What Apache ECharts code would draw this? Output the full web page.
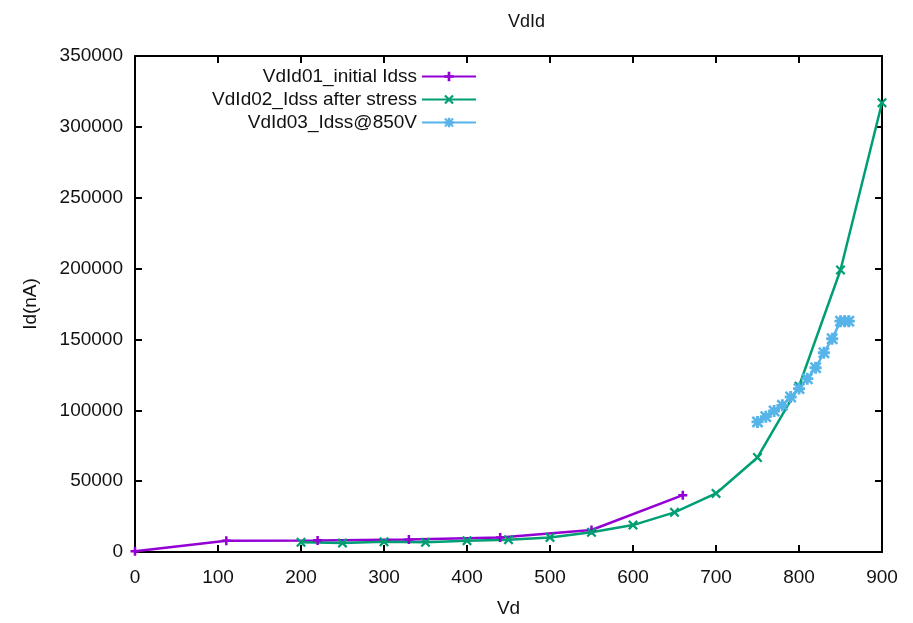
<!DOCTYPE html>
<html>
<head>
<meta charset="utf-8">
<script src="https://cdn.jsdelivr.net/npm/echarts@6/dist/echarts.min.js"></script>
<style>html,body{margin:0;padding:0;background:#fff}#c{width:913px;height:623px}</style>
</head>
<body>
<div id="c"></div>
<script>
const xTicks = [0, 100, 200, 300, 400, 500, 600, 700, 800, 900];
const yTicks = [0, 50000, 100000, 150000, 200000, 250000, 300000, 350000];

const s1Name = 'VdId01_initial Idss';
const s1X = [0, 110, 220, 330, 440, 550, 660];
const s1Y = [500, 8000, 8200, 8800, 10300, 15500, 40100];

const s2Name = 'VdId02_Idss after stress';
const s2X = [200, 250, 300, 350, 400, 450, 500, 550, 600, 650, 700, 750, 800, 850, 900];
const s2Y = [6800, 6300, 7200, 6800, 8000, 8700, 10300, 13900, 19000, 28000, 41300, 66700, 117000, 199000, 317000];

const s3Name = 'VdId03_Idss@850V';
const s3X = [750, 760, 770, 780, 790, 800, 810, 820, 830, 840, 850, 855, 860];
const s3Y = [91800, 95500, 99500, 103500, 109400, 115300, 122300, 130000, 140600, 150500, 162900, 162900, 162900];

const PLUS = 'path://M3.6,0H6.4V3.6H10V6.4H6.4V10H3.6V6.4H0V3.6H3.6Z';
const CROSS = 'path://M0,1.6L1.6,0L5,3.4L8.4,0L10,1.6L6.6,5L10,8.4L8.4,10L5,6.6L1.6,10L0,8.4L3.4,5Z';
const STAR = 'path://M3.8,0H6.2V3.8H10V6.2H6.2V10H3.8V6.2H0V3.8H3.8Z M0,1.5L1.5,0L5,3.5L8.5,0L10,1.5L6.5,5L10,8.5L8.5,10L5,6.5L1.5,10L0,8.5L3.5,5Z';

function pairs(xs, ys) { return xs.map((x, i) => [x, ys[i]]); }

const font = 'Liberation Sans, Arial, sans-serif';
const FS = 19;
const chart = echarts.init(document.getElementById('c'), null, {renderer: 'canvas'});
const axisBase = {
  axisLine: {show: true, onZero: false, lineStyle: {color: '#000', width: 2}},
  axisTick: {show: true, inside: true, length: 7, lineStyle: {color: '#000', width: 2}},
  splitLine: {show: false}
};
chart.setOption({
  animation: false,
  backgroundColor: '#fff',
  title: {text: 'VdId', left: 503, top: 8, textStyle: {fontFamily: font, fontSize: 18, fontWeight: 'normal', color: '#111'}},
  grid: {left: 135, right: 31, top: 56, bottom: 70},
  legend: {
    orient: 'vertical', align: 'right', right: 431, top: 62,
    itemWidth: 54, itemHeight: 12, itemGap: 4,
    textStyle: {fontFamily: font, fontSize: FS, color: '#111', padding: [0, 0, 0, 0]},
    data: [s1Name, s2Name, s3Name]
  },
  xAxis: [
    Object.assign({}, axisBase, {
      type: 'value', min: xTicks[0], max: xTicks[xTicks.length - 1], interval: 100,
      name: 'Vd', nameLocation: 'middle', nameGap: 47,
      nameTextStyle: {fontFamily: font, fontSize: FS, color: '#111'},
      axisLabel: {fontFamily: font, fontSize: FS, color: '#111', margin: 16}
    }),
    Object.assign({}, axisBase, {
      type: 'value', position: 'top', min: xTicks[0], max: xTicks[xTicks.length - 1], interval: 100,
      axisLabel: {show: false}
    })
  ],
  yAxis: [
    Object.assign({}, axisBase, {
      type: 'value', min: yTicks[0], max: yTicks[yTicks.length - 1], interval: 50000,
      name: 'Id(nA)', nameLocation: 'middle', nameGap: 95,
      nameTextStyle: {fontFamily: font, fontSize: FS, color: '#111'},
      axisLabel: {fontFamily: font, fontSize: FS, color: '#111', margin: 12, formatter: v => String(v)}
    }),
    Object.assign({}, axisBase, {
      type: 'value', position: 'right', min: yTicks[0], max: yTicks[yTicks.length - 1], interval: 50000,
      axisLabel: {show: false}
    })
  ],
  series: [
    {name: s1Name, type: 'line', data: pairs(s1X, s1Y), color: '#9400D3',
     lineStyle: {width: 2.5}, symbol: PLUS, symbolSize: 9, showAllSymbol: true},
    {name: s2Name, type: 'line', data: pairs(s2X, s2Y), color: '#009E73',
     lineStyle: {width: 2.5}, symbol: CROSS, symbolSize: 10, showAllSymbol: true},
    {name: s3Name, type: 'line', data: pairs(s3X, s3Y), color: '#56B4E9',
     lineStyle: {width: 2.5}, symbol: STAR, symbolSize: 12, showAllSymbol: true}
  ]
});
</script>
</body>
</html>
